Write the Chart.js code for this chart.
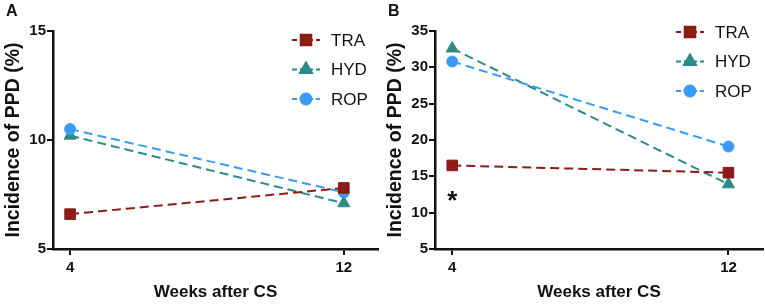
<!DOCTYPE html>
<html>
<head>
<meta charset="utf-8">
<script src="https://cdn.jsdelivr.net/npm/chart.js@4/dist/chart.umd.min.js"></script>
<style>
  html, body { margin: 0; padding: 0; background: #fff; }
  .wrap { position: absolute; top: 0; height: 305px; }
</style>
</head>
<body>
<div class="wrap" style="left:0;width:382px"><canvas id="chartA" width="382" height="305"></canvas></div>
<div class="wrap" style="left:382px;width:383px"><canvas id="chartB" width="383" height="305"></canvas></div>
<script>
// data
const weeks = [4, 12];
const seriesNames = ["TRA", "HYD", "ROP"];

const traA = [6.6, 7.8];
const hydA = [10.2, 7.1];
const ropA = [10.5, 7.6];
const yTicksA = [5, 10, 15];

const traB = [16.5, 15.5];
const hydB = [32.6, 13.9];
const ropB = [30.8, 19.1];
const yTicksB = [5, 10, 15, 20, 25, 30, 35];

// significance marker in panel B (week 4)
const starB = { x: 4, y: 12.4, text: "*" };

const FONT = "'Liberation Sans', Arial, Helvetica, sans-serif";
const INK = "#111";
const styles = {
  TRA: { color: "#8B1C17", pointStyle: "rect", radius: 7.5, order: 1 },
  HYD: { color: "#2E8A86", pointStyle: "triangle", radius: 7, order: 3 },
  ROP: { color: "#3A9BF4", pointStyle: "circle", radius: 5.5, order: 2 }
};

function makeDataset(name, values) {
  const s = styles[name];
  return {
    label: name,
    data: weeks.map((w, i) => ({ x: w, y: values[i] })),
    borderColor: s.color,
    backgroundColor: s.color,
    borderWidth: 2,
    borderDash: [9, 5],
    pointStyle: s.pointStyle,
    pointRadius: s.radius,
    pointBorderWidth: 1,
    order: s.order
  };
}

// panel letter, legend with line + marker, optional star
const extras = {
  id: "extras",
  afterDraw(chart, args, opts) {
    const ctx = chart.ctx;
    const area = chart.chartArea;
    ctx.save();
    ctx.fillStyle = INK;
    ctx.font = "bold 16px " + FONT;
    ctx.textBaseline = "top";
    ctx.fillText(opts.letter, 6, 4);

    // legend
    ctx.font = "17px " + FONT;
    ctx.textBaseline = "middle";
    chart.data.datasets.forEach((ds, i) => {
      const mx = area.right - opts.legendDx;
      const my = opts.legendTop + i * 29.5;
      ctx.strokeStyle = ds.borderColor;
      ctx.lineWidth = 2;
      ctx.setLineDash([5, 3]);
      ctx.beginPath();
      ctx.moveTo(mx - 14, my);
      ctx.lineTo(mx + 14, my);
      ctx.stroke();
      ctx.setLineDash([]);
      ctx.fillStyle = ds.backgroundColor;
      Chart.helpers.drawPoint(ctx, {
        pointStyle: ds.pointStyle, radius: ds.pointRadius, rotation: 0, borderWidth: 1
      }, mx, my);
      ctx.fillStyle = INK;
      ctx.fillText(ds.label, mx + 25, my + 1);
    });

    if (opts.star) {
      const sx = chart.scales.x.getPixelForValue(opts.star.x);
      const sy = chart.scales.y.getPixelForValue(opts.star.y);
      ctx.font = "bold 26px " + FONT;
      ctx.textAlign = "center";
      ctx.textBaseline = "alphabetic";
      ctx.fillText(opts.star.text, sx, sy + 14);
    }
    ctx.restore();
  }
};

function makeChart(id, tra, hyd, rop, yTicks, extraOpts) {
  const ctx = document.getElementById(id).getContext("2d");
  return new Chart(ctx, {
    type: "line",
    data: {
      datasets: [makeDataset("TRA", tra), makeDataset("HYD", hyd), makeDataset("ROP", rop)]
    },
    options: {
      responsive: false,
      animation: false,
      layout: { autoPadding: false, padding: { top: 31, right: extraOpts.padRight, bottom: 0, left: 0 } },
      plugins: {
        legend: { display: false },
        tooltip: { enabled: false },
        extras: extraOpts
      },
      scales: {
        x: {
          type: "linear",
          min: 3.5,
          max: 13,
          afterBuildTicks: (s) => { s.ticks = weeks.map((v) => ({ value: v })); },
          afterFit: (s) => { s.height = 56; },
          grid: { drawOnChartArea: false, drawTicks: true, tickLength: 6, color: INK, lineWidth: 2 },
          border: { display: true, color: INK, width: 2.5 },
          ticks: { color: INK, font: { family: FONT, size: 15, weight: "bold" }, padding: 4 },
          title: { display: true, text: "Weeks after CS", color: INK, padding: { top: 0, bottom: 2 },
                   font: { family: FONT, size: 17, weight: "bold" } }
        },
        y: {
          min: yTicks[0],
          max: yTicks[yTicks.length - 1],
          afterBuildTicks: (s) => { s.ticks = yTicks.map((v) => ({ value: v })); },
          afterFit: (s) => { s.width = 53; },
          grid: { drawOnChartArea: false, drawTicks: true, tickLength: 6, color: INK, lineWidth: 2 },
          border: { display: true, color: INK, width: 2.5 },
          ticks: { color: INK, font: { family: FONT, size: 15, weight: "bold" }, padding: 1 },
          title: { display: true, text: "Incidence of PPD (%)", color: INK, padding: { top: 2, bottom: 0 },
                   font: { family: FONT, size: 19.5, weight: "bold" } }
        }
      }
    },
    plugins: [extras]
  });
}

makeChart("chartA", traA, hydA, ropA, yTicksA, { letter: "A", legendDx: 72, legendTop: 40, padRight: 4 });
makeChart("chartB", traB, hydB, ropB, yTicksB, { letter: "B", legendDx: 73, legendTop: 32, padRight: 2, star: starB });
</script>
</body>
</html>
